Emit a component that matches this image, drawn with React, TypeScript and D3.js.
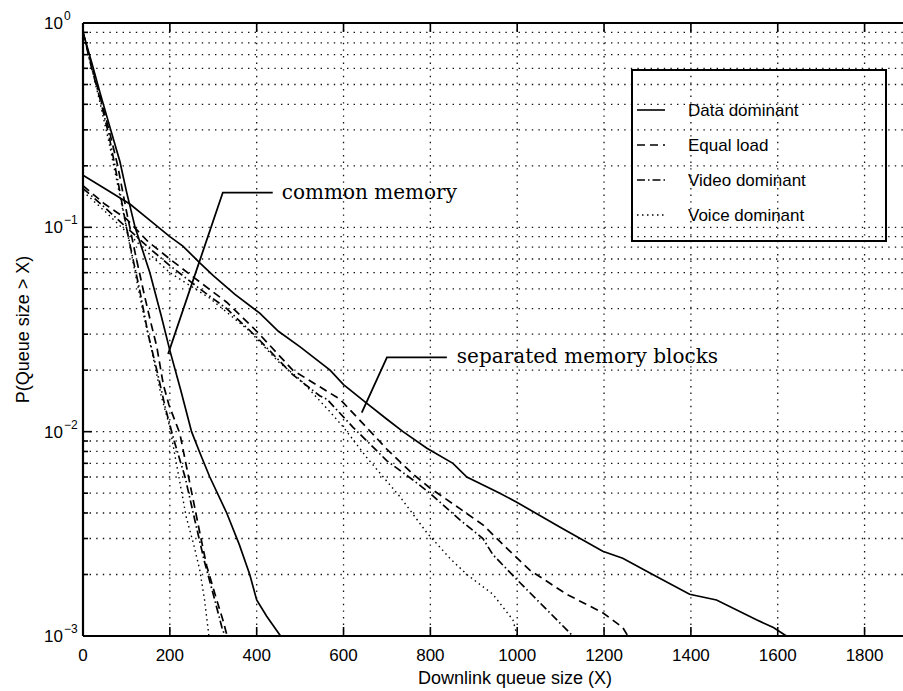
import React, { useEffect, useRef } from 'react';
import * as d3 from 'd3';

const xTicks = [0, 200, 400, 600, 800, 1000, 1200, 1400, 1600, 1800];
const yDecades = [-3, -2, -1, 0];
const seriesNames = ['Data dominant', 'Equal load', 'Video dominant', 'Voice dominant'];

// common memory curves
const dataCommon: [number, number][] = [[0,0.9],[20,0.64],[40,0.45],[60,0.32],[85,0.21],[100,0.15],[120,0.1],[154,0.06],[180,0.037],[200,0.025],[225,0.016],[250,0.01],[270,0.0078],[292,0.006],[331,0.004],[360,0.0028],[384,0.002],[400,0.0015],[423,0.00125],[455,0.001]];
const equalCommon: [number, number][] = [[0,0.9],[20,0.62],[40,0.43],[60,0.3],[80,0.2],[100,0.12],[120,0.075],[140,0.048],[155,0.035],[170,0.026],[185,0.017],[198,0.0135],[223,0.0098],[246,0.0056],[269,0.0032],[285,0.0022],[308,0.0015],[322,0.0012],[332,0.001]];
const videoCommon: [number, number][] = [[0,0.9],[20,0.6],[40,0.42],[60,0.28],[80,0.17],[100,0.1],[115,0.07],[130,0.05],[150,0.03],[170,0.02],[190,0.013],[210,0.009],[235,0.006],[260,0.0035],[280,0.0023],[300,0.0016],[320,0.0011],[327,0.001]];
const voiceCommon: [number, number][] = [[0,0.9],[20,0.6],[40,0.4],[60,0.26],[80,0.16],[100,0.1],[120,0.06],[140,0.037],[160,0.024],[180,0.015],[200,0.0105],[215,0.007],[238,0.0038],[255,0.0028],[269,0.0021],[280,0.0015],[290,0.001]];

// separated memory block curves
const dataSeparated: [number, number][] = [[0,0.18],[50,0.155],[108,0.13],[150,0.11],[200,0.09],[230,0.081],[269,0.067],[300,0.058],[350,0.047],[407,0.038],[450,0.031],[500,0.026],[569,0.02],[600,0.017],[653,0.0138],[700,0.0115],[737,0.01],[792,0.0083],[852,0.007],[884,0.006],[960,0.005],[1000,0.0045],[1100,0.0034],[1197,0.0026],[1243,0.0024],[1312,0.002],[1397,0.0016],[1459,0.0015],[1551,0.0012],[1590,0.0011],[1620,0.001]];
const equalSeparated: [number, number][] = [[0,0.16],[50,0.13],[100,0.11],[150,0.085],[200,0.07],[269,0.054],[331,0.043],[400,0.031],[483,0.02],[545,0.0166],[592,0.0144],[653,0.0105],[700,0.0082],[760,0.0062],[799,0.0053],[868,0.0042],[921,0.0035],[983,0.0026],[1029,0.0021],[1114,0.0016],[1197,0.0013],[1243,0.0011],[1255,0.001]];
const videoSeparated: [number, number][] = [[0,0.155],[50,0.125],[100,0.1],[150,0.08],[200,0.065],[269,0.05],[331,0.04],[400,0.029],[483,0.019],[545,0.015],[562,0.0144],[622,0.0105],[700,0.0072],[760,0.0058],[799,0.005],[868,0.0037],[921,0.003],[944,0.0025],[998,0.0019],[1075,0.0013],[1128,0.001]];
const voiceSeparated: [number, number][] = [[0,0.15],[50,0.12],[100,0.095],[150,0.075],[200,0.06],[292,0.045],[384,0.031],[450,0.022],[500,0.018],[569,0.0125],[600,0.0105],[653,0.0075],[730,0.0048],[792,0.0032],[845,0.0024],[884,0.002],[944,0.0016],[990,0.0012],[1000,0.001]];

const dashStyles = ['', '8,5', '8,3,1.5,3', '1.5,3.5'];

// annotations in data coordinates: text anchor, elbow, tip
const annotations = [
  { text: 'common memory', textAt: [458, 0.148], hEnd: [437, 0.148], elbow: [322, 0.148], tip: [196, 0.024] },
  { text: 'separated memory blocks', textAt: [861, 0.0231], hEnd: [838, 0.0231], elbow: [700, 0.0231], tip: [642, 0.0124] },
];

export default function App() {
  const ref = useRef<SVGSVGElement>(null);
  useEffect(() => {
    const W = 903, H = 691;
    const svg = d3.select(ref.current);
    svg.selectAll('*').remove();
    const x = d3.scaleLinear().domain([0, 1900]).range([83, 908]);
    const y = d3.scaleLog().domain([1e-3, 1]).range([636, 23]);
    const [x0, x1] = [83, 908];
    const [yb, yt] = [636, 23];
    svg.append('rect').attr('width', W).attr('height', H).attr('fill', 'white');

    const defs = svg.append('defs');
    defs.append('clipPath').attr('id', 'plotclip').append('rect')
      .attr('x', x0).attr('y', yt).attr('width', x1 - x0).attr('height', yb - yt);

    const minor: number[] = [];
    yDecades.slice(0, 3).forEach(d => { for (let k = 2; k <= 9; k++) minor.push(k * Math.pow(10, d)); });
    const gridY = [...minor, 1e-2, 1e-1];

    const grid = svg.append('g').attr('stroke', '#111').attr('stroke-width', 1.3)
      .attr('stroke-dasharray', '1.4,5.2').attr('fill', 'none');
    gridY.forEach(v => {
      grid.append('line').attr('x1', x0).attr('x2', x1).attr('y1', y(v)).attr('y2', y(v));
    });
    xTicks.slice(1).forEach(v => {
      grid.append('line').attr('x1', x(v)).attr('x2', x(v)).attr('y1', yt).attr('y2', yb);
    });

    const line = d3.line<[number, number]>().x(d => x(d[0])).y(d => y(d[1])).curve(d3.curveLinear);
    const groups = [
      [dataCommon, dataSeparated],
      [equalCommon, equalSeparated],
      [videoCommon, videoSeparated],
      [voiceCommon, voiceSeparated],
    ];
    const lg = svg.append('g').attr('clip-path', 'url(#plotclip)');
    groups.forEach((pair, i) => {
      pair.forEach(data => {
        lg.append('path').datum(data).attr('d', line as any).attr('fill', 'none')
          .attr('stroke', '#000').attr('stroke-width', i === 3 ? 1.4 : 1.7)
          .attr('stroke-dasharray', dashStyles[i] || null);
      });
    });

    // axes box
    const ax = svg.append('g').attr('stroke', '#000').attr('fill', 'none');
    ax.append('line').attr('x1', x0).attr('x2', x1).attr('y1', yb).attr('y2', yb).attr('stroke-width', 2.2);
    ax.append('line').attr('x1', x0).attr('x2', x1).attr('y1', yt).attr('y2', yt).attr('stroke-width', 2.2);
    ax.append('line').attr('x1', x0).attr('x2', x0).attr('y1', yt).attr('y2', yb).attr('stroke-width', 2.2);

    xTicks.forEach(v => {
      ax.append('line').attr('x1', x(v)).attr('x2', x(v)).attr('y1', yb).attr('y2', yb - 9).attr('stroke-width', 1.6);
      ax.append('line').attr('x1', x(v)).attr('x2', x(v)).attr('y1', yt).attr('y2', yt + 9).attr('stroke-width', 1.6);
    });
    gridY.concat([1e-3, 1]).forEach(v => {
      const major = Math.abs(Math.log10(v) - Math.round(Math.log10(v))) < 1e-9;
      ax.append('line').attr('x1', x0).attr('x2', x0 + (major ? 9 : 5)).attr('y1', y(v)).attr('y2', y(v)).attr('stroke-width', 1.6);
    });

    const font = '"Liberation Sans", Arial, sans-serif';
    const tl = svg.append('g').attr('font-family', font).attr('fill', '#000');
    xTicks.forEach(v => {
      tl.append('text').attr('x', x(v)).attr('y', 661).attr('text-anchor', 'middle')
        .attr('font-size', 17).text(String(v));
    });
    yDecades.forEach(d => {
      const yy = y(Math.pow(10, d));
      tl.append('text').attr('x', 63).attr('y', yy + 6).attr('text-anchor', 'end').attr('font-size', 17).text('10');
      tl.append('text').attr('x', 64).attr('y', yy - 3).attr('text-anchor', 'start').attr('font-size', 12)
        .text(d === 0 ? '0' : '\u2212' + String(-d));
    });
    tl.append('text').attr('x', 515).attr('y', 684).attr('text-anchor', 'middle')
      .attr('font-size', 18).text('Downlink queue size (X)');
    tl.append('text').attr('transform', `translate(29,${(yt + yb) / 2}) rotate(-90)`).attr('text-anchor', 'middle')
      .attr('font-size', 18).text('P(Queue size > X)');

    // annotations
    const an = svg.append('g');
    annotations.forEach(a => {
      const pts: [number, number][] = [a.hEnd as [number, number], a.elbow as [number, number], a.tip as [number, number]];
      an.append('path').attr('d', line(pts) as string).attr('fill', 'none').attr('stroke', '#000').attr('stroke-width', 1.8);
      an.append('text').attr('x', x(a.textAt[0])).attr('y', y(a.textAt[1]) + 6)
        .attr('font-family', '"DejaVu Serif", serif').attr('font-size', 20).attr('fill', '#000').text(a.text);
    });

    // legend
    const legX = 632, legY = 70, legW = 254, legH = 171;
    const leg = svg.append('g');
    leg.append('rect').attr('x', legX).attr('y', legY).attr('width', legW).attr('height', legH)
      .attr('fill', 'none').attr('stroke', '#000').attr('stroke-width', 2);
    seriesNames.forEach((name, i) => {
      const ly = legY + 40 + i * 35;
      leg.append('line').attr('x1', legX + 5).attr('x2', legX + 33).attr('y1', ly).attr('y2', ly)
        .attr('stroke', '#000').attr('stroke-width', 1.6).attr('stroke-dasharray', dashStyles[i] || null);
      leg.append('text').attr('x', legX + 56).attr('y', ly + 6).attr('font-family', font)
        .attr('font-size', 17).attr('fill', '#000').text(name);
    });
  }, []);
  return <svg ref={ref} width={903} height={691} style={{ position: 'absolute', left: 0, top: 0 }} />;
}
